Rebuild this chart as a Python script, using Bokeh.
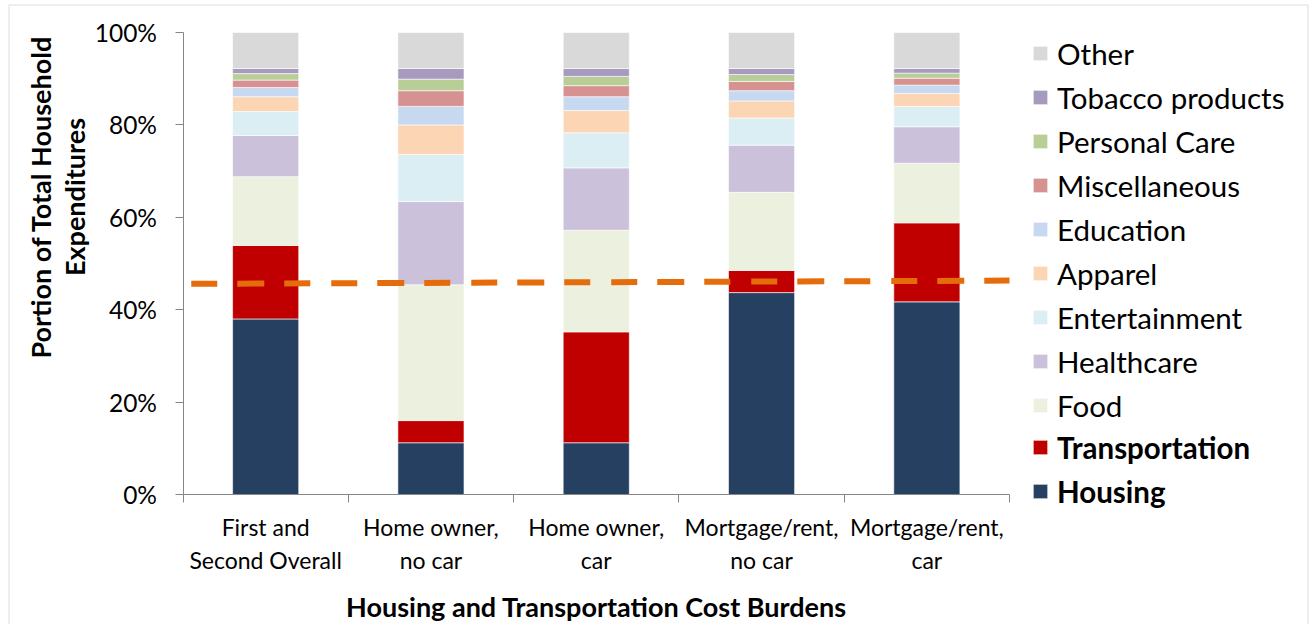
from bokeh.plotting import figure
from bokeh.models import (ColumnDataSource, FixedTicker, Legend, LegendItem, Label,
                          Range1d, BoxAnnotation)
from bokeh.embed import file_html
from bokeh.resources import INLINE
import math

# ---------------- data ----------------
categories = ["First and\nSecond Overall", "Home owner,\nno car", "Home owner,\ncar",
              "Mortgage/rent,\nno car", "Mortgage/rent,\ncar"]

housing        = [38.0, 11.2, 11.2, 43.7, 41.7]
transportation = [15.9,  4.8, 24.0,  4.8, 17.1]
food           = [14.9, 29.4, 22.0, 16.9, 12.9]
healthcare     = [ 8.9, 18.0, 13.5, 10.2,  7.9]
entertainment  = [ 5.2, 10.2,  7.6,  5.9,  4.4]
apparel        = [ 3.2,  6.4,  4.8,  3.7,  2.8]
education      = [ 2.0,  4.0,  3.0,  2.2,  1.8]
miscellaneous  = [ 1.6,  3.4,  2.4,  2.0,  1.5]
personal_care  = [ 1.4,  2.5,  2.0,  1.5,  1.1]
tobacco        = [ 1.1,  2.3,  1.7,  1.3,  1.0]
other          = [ 7.8,  7.8,  7.8,  7.8,  7.8]

series_names = ["Housing", "Transportation", "Food", "Healthcare", "Entertainment",
                "Apparel", "Education", "Miscellaneous", "Personal Care",
                "Tobacco products", "Other"]
series_values = [housing, transportation, food, healthcare, entertainment, apparel,
                 education, miscellaneous, personal_care, tobacco, other]
series_colors = ["#254061", "#C00000", "#EBF1DE", "#CCC1DA", "#DBEEF4", "#FCD5B5",
                 "#C6D9F1", "#D59290", "#B9CE96", "#A69ABE", "#D9D9D9"]
bold_series = ["Transportation", "Housing"]

threshold_x = [0.05, 5.0]
threshold_y = [45.6, 46.3]

y_ticks = [0, 20, 40, 60, 80, 100]
y_tick_labels = ["0%", "20%", "40%", "60%", "80%", "100%"]

y_title_lines = ["Portion of Total Household", "Expenditures"]
x_title = "Housing and Transportation Cost Burdens"

FONT = "Lato"
AXIS_GRAY = "#868686"

# ---------------- geometry (pixels) ----------------
W, H = 1309, 624
X0, PX_X = 182.5, 165.3   # screen x of category boundary 0, px per category
Y0, PX_Y = 494.0, 4.62    # screen y of 0 %, px per percent


def sx2d(sx):
    return (sx - X0) / PX_X


def sy2d(sy):
    return (Y0 - sy) / PX_Y


p = figure(width=W, height=H, output_backend="svg", toolbar_location=None,
           x_range=Range1d(sx2d(0), sx2d(W)), y_range=Range1d(sy2d(H), sy2d(0)),
           min_border=0, min_border_left=0, min_border_right=0,
           min_border_top=0, min_border_bottom=0)
p.outline_line_color = None
p.xgrid.grid_line_color = None
p.ygrid.grid_line_color = None

# chart-area border (open at the bottom, as in the cropped original)
p.add_layout(BoxAnnotation(left=sx2d(8.5), right=sx2d(1307.5), top=sy2d(4.5),
                           bottom=sy2d(H + 20), fill_alpha=0,
                           line_color="#8C8C8C", line_width=1))

centers = [i + 0.5 for i in range(len(categories))]
data = {"x": centers}
for n, v in zip(series_names, series_values):
    data[n] = v
src = ColumnDataSource(data)

renderers = p.vbar_stack(series_names, x="x", width=0.4, source=src,
                         color=series_colors, line_color="white", line_width=1,
                         line_alpha=0.6)

p.line(threshold_x, threshold_y, line_color="#E46C0A", line_width=6,
       line_dash="26 20 27 20 26 21", line_cap="butt")

# ---------------- axes (pinned at the data origin) ----------------
xa = p.xaxis[0]
xa.fixed_location = 0
xa.bounds = (0, len(categories))
xa.ticker = FixedTicker(ticks=centers, minor_ticks=list(range(len(categories) + 1)))
xa.major_label_overrides = {c: lab for c, lab in zip(centers, categories)}
xa.major_tick_out = 0
xa.major_tick_in = 0
xa.minor_tick_out = 8
xa.minor_tick_in = 0
xa.minor_tick_line_color = AXIS_GRAY
xa.axis_line_color = AXIS_GRAY
xa.major_label_text_font = FONT
xa.major_label_text_font_size = "23px"
xa.major_label_text_color = "black"
xa.major_label_standoff = 10
xa.axis_label = x_title
xa.axis_label_text_font = FONT
xa.axis_label_text_font_size = "27px"
xa.axis_label_text_font_style = "bold"
xa.axis_label_text_color = "black"
xa.axis_label_standoff = 13

ya = p.yaxis[0]
ya.fixed_location = 0
ya.bounds = (0, 100)
ya.ticker = FixedTicker(ticks=y_ticks, minor_ticks=[])
ya.major_label_overrides = {t: lab for t, lab in zip(y_ticks, y_tick_labels)}
ya.major_tick_out = 8
ya.major_tick_in = 0
ya.major_tick_line_color = AXIS_GRAY
ya.axis_line_color = AXIS_GRAY
ya.major_label_text_font = FONT
ya.major_label_text_font_size = "24.5px"
ya.major_label_text_color = "black"
ya.major_label_standoff = 18

# ---------------- y-axis title (two lines) ----------------
for line_text, base_sx in zip(y_title_lines, [39.5, 73.5]):
    p.add_layout(Label(x=sx2d(base_sx), y=sy2d(196.5), text=line_text,
                       angle=math.pi / 2, text_align="center",
                       text_baseline="alphabetic", text_font=FONT,
                       text_font_size="27px", text_font_style="bold",
                       text_color="black"))

# ---------------- legends ----------------
items = {n: LegendItem(label=n, renderers=[r]) for n, r in zip(series_names, renderers)}
normal_items = [items[n] for n in reversed(series_names) if n not in bold_series]
bold_items = [items[n] for n in bold_series]

common = dict(padding=0, margin=0, border_line_color=None, background_fill_alpha=0,
              glyph_width=18, glyph_height=18, label_height=44, spacing=0,
              label_standoff=8, label_text_font=FONT, label_text_font_size="29.5px",
              label_text_color="black")
leg1 = Legend(items=normal_items, location=(1031, H - 427), **common)
leg2 = Legend(items=bold_items, location=(1031, H - 513), label_text_font_style="bold",
              **common)
p.add_layout(leg1)
p.add_layout(leg2)

open("out.html", "w").write(file_html(p, INLINE))
